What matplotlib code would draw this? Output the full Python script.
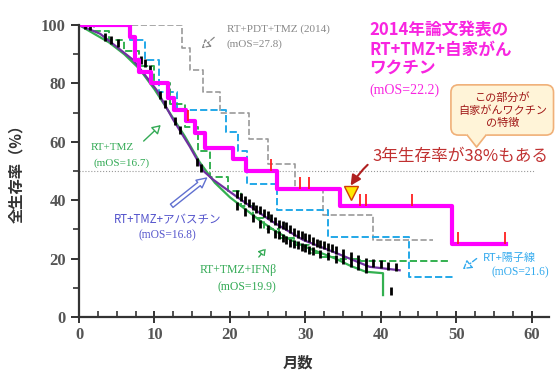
import numpy as np
import matplotlib.pyplot as plt
from matplotlib.patches import FancyBboxPatch
from matplotlib.ticker import MultipleLocator

plt.rcParams['font.family'] = ['Noto Sans CJK JP', 'DejaVu Sans']

# vaccine arm (magenta step curve)
vac_t = [0, 6.8, 7.4, 8.0, 9.6, 11.8, 12.6, 14.2, 15.4, 16.7, 20.4, 22.2, 26.2, 34.6, 49.4, 56.6]
vac_s = [100, 96, 88, 84, 80, 75, 71, 67, 63, 58, 54, 50, 44, 38, 25, 25]
vac_cens_x = [14.5, 25.5, 29.3, 30.5, 37.2, 38.0, 44.2, 50.2, 56.5]
vac_cens_y = [67, 50, 44, 44, 38, 38, 38, 25, 25]

# RT+PDT+TMZ (gray dashed)
pdt_t = [0, 13.6, 14.7, 16.5, 18.7, 22.6, 25.0, 28.6, 32.3, 39.0, 46.9]
pdt_s = [100, 92, 84.6, 77, 69.8, 61, 52.5, 44, 35, 26.4, 26.4]

# RT+proton (blue dashed)
pro_t = [0, 6.8, 8.7, 10.6, 13.0, 19.5, 21.1, 22.3, 26.2, 33.0, 43.8, 49.6]
pro_s = [100, 95, 88, 77, 71, 63.4, 57, 45.5, 36.6, 27.5, 13.8, 13.8]

# RT+TMZ+IFNb (green dashed)
ifn_t = [0, 2, 4, 6, 8, 10, 12, 14, 15.8, 17.3, 19.7, 21.5, 23, 24.5, 26.5, 28.5, 30.5, 32, 34, 37.2, 49]
ifn_s = [100, 98, 95, 91, 86, 80, 73, 65, 57, 48, 43, 38, 34, 30, 27, 24.5, 22, 20.5, 20, 19.3, 19.3]

# RT+TMZ (green solid)
tmz_x = [0, 2, 4, 6, 8, 10, 12, 14, 16, 18, 20, 22, 24, 26, 28, 30, 32, 34, 36, 38, 40.3, 40.3]
tmz_y = [100, 97, 94, 90, 85, 78, 70, 62, 53, 46, 41, 37, 33, 29.5, 26.5, 24, 22, 20, 17.5, 15.5, 15, 7.5]

# RT+TMZ+bevacizumab (purple solid)
av_x = [0, 2.8, 7.2, 10.3, 12.5, 14.7, 16.5, 17.8, 20.9, 25.3, 29.7, 34.1, 38.5, 42.5]
av_y = [100, 97, 88, 77.7, 67.5, 58.3, 50, 47, 41.2, 33.2, 26.4, 21.9, 17.2, 16]

# black censor marks
cen1_x = [0.8, 1.5, 3.5, 4.3, 5.2, 8.2, 8.8, 9.4, 10.8, 11.4, 12.7, 13.4, 15.6, 16.2,
          21, 21.5, 22, 22.5, 23, 23.5, 24, 24.5, 25, 25.5, 26, 26.5, 27, 27.5, 28, 28.5, 29, 29.5,
          30, 30.5, 31, 31.5, 32, 32.5, 33, 33.5, 34, 35, 36, 37, 38, 39, 40, 41, 42]
cen1_y = [100, 99.5, 96, 95, 94, 88, 87, 85, 76, 73, 67, 64, 53, 51,
          42, 41, 40, 39, 38, 37, 36.5, 35.5, 35, 34, 33, 32, 31.5, 31, 30, 29, 28.5, 28,
          27.5, 27, 26, 25.5, 25, 24.5, 24, 23.5, 23, 22, 21, 20, 19, 18.5, 18, 17.5, 17]
cen2_x = [21, 22, 23, 24, 25, 26, 26.5, 27, 27.5, 28, 28.5, 29, 29.5, 30, 30.5, 31, 32, 33, 34, 35,
          36, 37, 38, 41.3]
cen2_y = [38, 36, 34, 32, 30, 28.5, 28, 27, 26.5, 25.5, 25, 24.5, 24, 23.5, 23, 22.5, 21.5, 21, 20,
          19.5, 18.5, 17.5, 16.5, 9]

fig = plt.figure(figsize=(5.56, 3.71), dpi=100)
ax = fig.add_axes([79/556, 54/371, 470/556, 292/371])

ax.hlines(50, 0, 60.4, colors='#999999', linestyles=':', lw=0.8)

ax.step(pdt_t, pdt_s, where='post', color='#999999', ls='--', lw=1.2)
ax.step(pro_t, pro_s, where='post', color='#22a8e8', ls='--', lw=1.4)
ax.step(ifn_t, ifn_s, where='post', color='#33b050', ls='--', lw=1.4)
ax.plot(tmz_x, tmz_y, color='#33b050', lw=1.6)
ax.plot(av_x, av_y, color='#7030a0', lw=1.6)
ax.plot(cen1_x, cen1_y, ls='none', marker='|', ms=6, mew=2, color='black')
ax.plot(cen2_x, cen2_y, ls='none', marker='|', ms=6, mew=2, color='black')
ax.step(vac_t, vac_s, where='post', color='#ff00ff', lw=3)
ax.vlines(vac_cens_x, vac_cens_y, np.array(vac_cens_y) + 4, colors='#ff2020', lw=1.3)
ax.plot([36], [42.5], marker='v', ms=10, mfc='#ffe800', mec='#d04000', mew=1)

ax.set_xlim(0, 62.3)
ax.set_ylim(0, 100)
ax.spines['top'].set_visible(False)
ax.spines['right'].set_visible(False)
for s in ['left', 'bottom']:
    ax.spines[s].set_linewidth(1.6)
    ax.spines[s].set_color('#333333')
ax.xaxis.set_major_locator(MultipleLocator(10))
ax.xaxis.set_minor_locator(MultipleLocator(2.5))
ax.yaxis.set_major_locator(MultipleLocator(20))
ax.yaxis.set_minor_locator(MultipleLocator(10))
ax.tick_params(axis='x', which='major', direction='inout', length=8, width=1.4, color='#333333')
ax.tick_params(axis='x', which='minor', direction='in', length=4, width=1.2, color='#333333')
ax.tick_params(axis='y', which='major', direction='out', length=6, width=1.4, color='#333333')
ax.tick_params(axis='y', which='minor', direction='out', length=4, width=1.2, color='#333333')
for lab in ax.get_xticklabels() + ax.get_yticklabels():
    lab.set_family('Liberation Serif')
    lab.set_fontsize(12)
    lab.set_color('#555555')
    lab.set_fontweight('bold')

fig.text(16/556, 1 - 170/371, '全生存率（%）', rotation=90, ha='center', va='center',
         fontsize=11, color='#333333', fontweight='bold')
fig.text(298/556, 1 - 363/371, '月数', ha='center', va='center', fontsize=11,
         color='#333333', fontweight='bold')

serif = ['Liberation Serif', 'Noto Sans CJK JP']

# gray label
ax.text(19.6, 98.6, 'RT+PDT+TMZ (2014)', fontsize=8, color='#888888', family=serif, va='center', clip_on=False)
ax.text(19.6, 93.5, '(mOS=27.8)', fontsize=8, color='#888888', family=serif, va='center')
ax.annotate('', xy=(16, 91.4), xytext=(18.2, 96.4),
            arrowprops=dict(arrowstyle='-|>,head_length=0.5,head_width=0.3', fc='white',
                            ec='#888888', ls='--', lw=0.9))

# magenta title
mag = '#f825e0'
ax.text(38.5, 98.3, '2014年論文発表の', fontsize=12, color=mag, fontweight='bold', va='center', clip_on=False)
ax.text(38.5, 91.4, 'RT+TMZ+自家がん', fontsize=12, color=mag, fontweight='bold', va='center')
ax.text(38.5, 85.3, 'ワクチン', fontsize=12, color=mag, fontweight='bold', va='center')
ax.text(38.5, 77.6, '(mOS=22.2)', fontsize=10, color=mag, family=serif, va='center')

# callout box with pointer
cream, tan = '#fff4d8', '#f0b078'
box = FancyBboxPatch((49.3, 62.3), 13.6, 17.2, boxstyle='round,pad=0,rounding_size=1.0',
                     mutation_aspect=2.59, fc=cream, ec=tan, lw=1.2, clip_on=False, zorder=5)
ax.add_patch(box)
ax.fill([51.3, 54.1, 52.7], [63.0, 63.0, 58.2], color=cream, zorder=6, clip_on=False)
ax.plot([51.45, 52.7, 53.95], [62.3, 58.2, 62.3], color=tan, lw=1.2, zorder=7, clip_on=False)
ax.text(56.1, 70.9, 'この部分が\n自家がんワクチン\nの特徴', fontsize=8, color='#a01818',
        ha='center', va='center', linespacing=1.2, zorder=8, clip_on=False)

ax.annotate('3年生存率が38%もある', xy=(36, 45), xytext=(38.9, 54.8), fontsize=12,
            color='#c03030', va='center', ha='left',
            arrowprops=dict(arrowstyle='-|>,head_length=0.5,head_width=0.25', color='#b02020',
                            lw=1.5, connectionstyle='arc3,rad=0.45', shrinkA=2, shrinkB=0))

# green RT+TMZ
grn = '#33aa55'
ax.text(1.5, 58.2, 'RT+TMZ', fontsize=8, color=grn, family=serif, va='center')
ax.text(1.9, 52.7, '(mOS=16.7)', fontsize=8, color=grn, family=serif, va='center')
ax.annotate('', xy=(11.1, 66.4), xytext=(8.3, 59.6),
            arrowprops=dict(arrowstyle='-|>,head_length=0.5,head_width=0.3', fc='white',
                            ec=grn, lw=1.0))

# avastin
blu = '#5555cc'
ax.text(11.7, 33.2, 'RT+TMZ+アバスチン', fontsize=8.3, color=blu, ha='center', va='center')
ax.text(11.7, 28.1, '(mOS=16.8)', fontsize=8.3, color=blu, family=serif, ha='center', va='center')
ax.annotate('', xy=(17.2, 48.2), xytext=(12.0, 37.5),
            arrowprops=dict(arrowstyle='simple,head_length=0.7,head_width=0.7,tail_width=0.3',
                            fc='white', ec='#6070d0', lw=1.0))

# IFN
ax.text(26.2, 16.1, 'RT+TMZ+IFNβ', fontsize=8.5, color=grn, family=serif, ha='right', va='center')
ax.text(26.2, 10.3, '(mOS=19.9)', fontsize=8.5, color=grn, family=serif, ha='right', va='center')
ax.annotate('', xy=(25.0, 24.2), xytext=(23.6, 19.8),
            arrowprops=dict(arrowstyle='-|>,head_length=0.4,head_width=0.25', fc='white',
                            ec=grn, lw=1.0, ls='--'))

# proton
pb = '#33aaee'
ax.text(53.6, 20.4, 'RT+陽子線', fontsize=8, color=pb, va='center', clip_on=False)
ax.text(62.3, 15.4, '(mOS=21.6)', fontsize=8.3, color=pb, family=serif, ha='right', va='center', clip_on=False)
ax.annotate('', xy=(50.6, 15.8), xytext=(53.0, 20.6),
            arrowprops=dict(arrowstyle='-|>,head_length=0.5,head_width=0.3', fc='white',
                            ec=pb, lw=1.0, ls='--'))

fig.savefig('out.png', dpi=100)
